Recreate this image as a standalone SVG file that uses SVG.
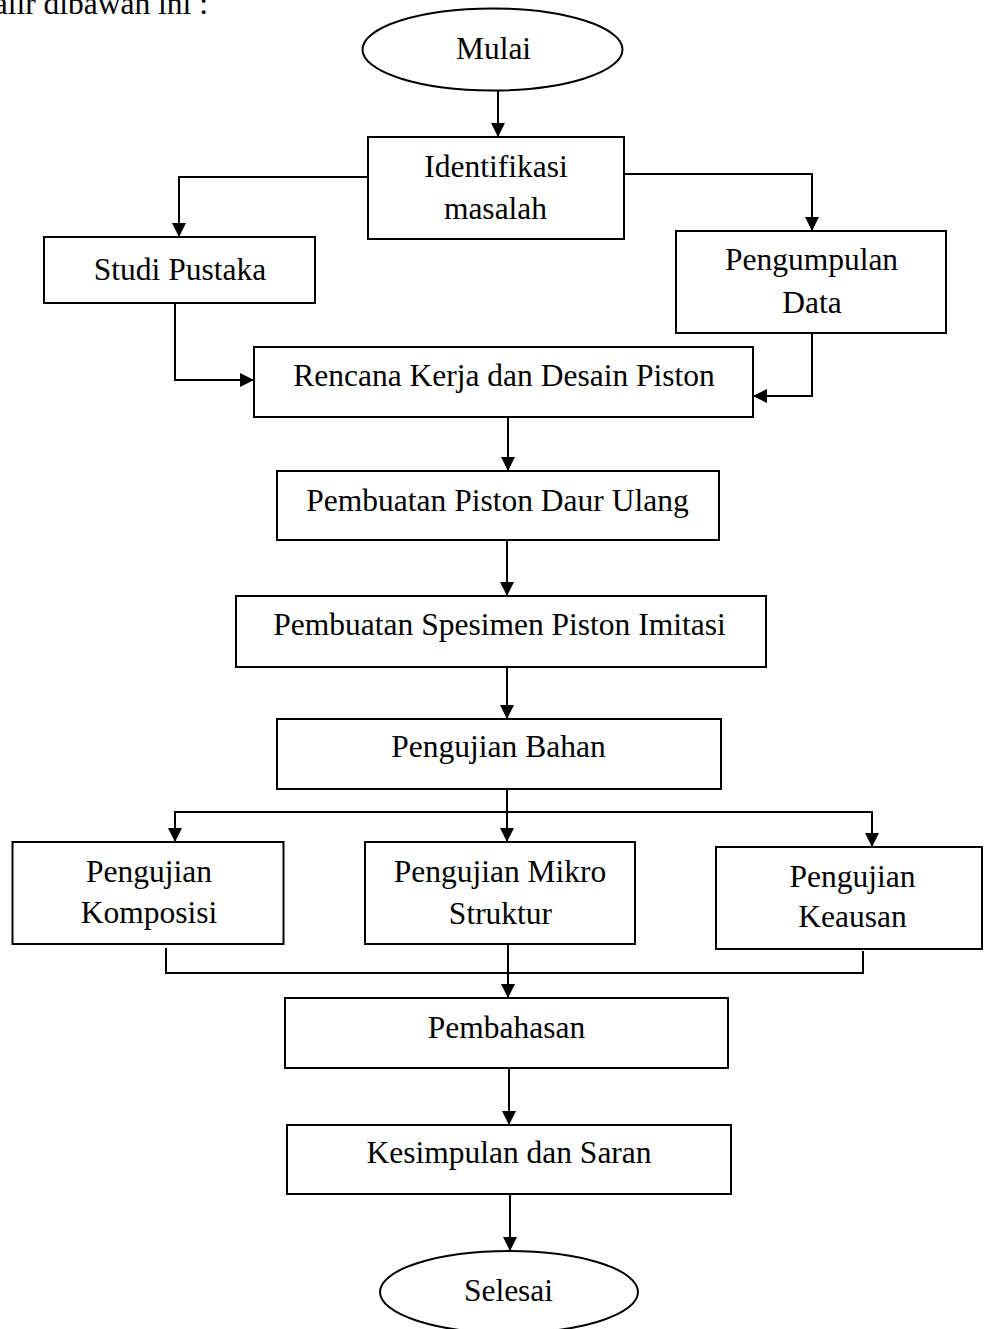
<svg xmlns="http://www.w3.org/2000/svg" width="984" height="1329" viewBox="0 0 984 1329">
<style>
.box{fill:#fff;stroke:#000;stroke-width:2}
.t{font-family:"Liberation Serif","Times New Roman",serif;font-size:31.5px;fill:#000;text-anchor:middle}
.c{fill:none;stroke:#000;stroke-width:2}
</style>
<defs>
<marker id="ah" viewBox="0 0 14 14" markerWidth="14" markerHeight="14" markerUnits="userSpaceOnUse" refX="14" refY="7" orient="auto">
<path d="M0,0 L14,7 L0,14 z" fill="#000"/>
</marker>
</defs>
<rect width="984" height="1329" fill="#fff"/>
<text class="t" x="208" y="14" style="text-anchor:end">alir dibawah ini :</text>

<g id="connectors">
<path class="c" d="M498,91 V137" marker-end="url(#ah)"/>
<path class="c" d="M368,177 H179 V237" marker-end="url(#ah)"/>
<path class="c" d="M624,174 H812 V231" marker-end="url(#ah)"/>
<path class="c" d="M175,303 V380 H254" marker-end="url(#ah)"/>
<path class="c" d="M812,333 V396 H753" marker-end="url(#ah)"/>
<path class="c" d="M508,417 V471" marker-end="url(#ah)"/>
<path class="c" d="M507,540 V596" marker-end="url(#ah)"/>
<path class="c" d="M507,667 V719" marker-end="url(#ah)"/>
<path class="c" d="M507,789 V842" marker-end="url(#ah)"/>
<path class="c" d="M175,812 H872"/>
<path class="c" d="M175,811 V842" marker-end="url(#ah)"/>
<path class="c" d="M872,811 V847" marker-end="url(#ah)"/>
<path class="c" d="M166,948 V973 H863 V951"/>
<path class="c" d="M508,944 V998" marker-end="url(#ah)"/>
<path class="c" d="M509,1068 V1125" marker-end="url(#ah)"/>
<path class="c" d="M510,1194 V1251" marker-end="url(#ah)"/>
</g>

<g id="mulai">
<ellipse class="box" cx="492.5" cy="49.5" rx="130" ry="41"/>
<text class="t" x="493.5" y="59">Mulai</text>
</g>
<g id="identifikasi">
<rect class="box" x="368" y="137" width="256" height="102"/>
<text class="t" x="496" y="177">Identifikasi</text>
<text class="t" x="495.5" y="219">masalah</text>
</g>
<g id="studi">
<rect class="box" x="44" y="237" width="271" height="66"/>
<text class="t" x="180" y="280">Studi Pustaka</text>
</g>
<g id="pengumpulan">
<rect class="box" x="676" y="231" width="270" height="102"/>
<text class="t" x="811.5" y="270">Pengumpulan</text>
<text class="t" x="812" y="313">Data</text>
</g>
<g id="rencana">
<rect class="box" x="254" y="347" width="499" height="70"/>
<text class="t" x="504" y="386">Rencana Kerja dan Desain Piston</text>
</g>
<g id="pembuatan-piston">
<rect class="box" x="277" y="471" width="442" height="69"/>
<text class="t" x="497.5" y="511">Pembuatan Piston Daur Ulang</text>
</g>
<g id="spesimen">
<rect class="box" x="236" y="596" width="530" height="71"/>
<text class="t" x="499.5" y="635">Pembuatan Spesimen Piston Imitasi</text>
</g>
<g id="bahan">
<rect class="box" x="277" y="719" width="444" height="70"/>
<text class="t" x="498.5" y="757">Pengujian Bahan</text>
</g>
<g id="komposisi">
<rect class="box" x="12.5" y="842" width="271" height="102"/>
<text class="t" x="149" y="882">Pengujian</text>
<text class="t" x="149" y="923">Komposisi</text>
</g>
<g id="mikro">
<rect class="box" x="365" y="842" width="270" height="102"/>
<text class="t" x="500" y="882">Pengujian Mikro</text>
<text class="t" x="500.5" y="924">Struktur</text>
</g>
<g id="keausan">
<rect class="box" x="716" y="847" width="266" height="102"/>
<text class="t" x="852.5" y="887">Pengujian</text>
<text class="t" x="852.5" y="927">Keausan</text>
</g>
<g id="pembahasan">
<rect class="box" x="285" y="998" width="443" height="70"/>
<text class="t" x="506.5" y="1038">Pembahasan</text>
</g>
<g id="kesimpulan">
<rect class="box" x="287" y="1125" width="444" height="69"/>
<text class="t" x="509" y="1163">Kesimpulan dan Saran</text>
</g>
<g id="selesai">
<ellipse class="box" cx="509" cy="1292" rx="129" ry="41"/>
<text class="t" x="508.5" y="1301">Selesai</text>
</g>
</svg>
